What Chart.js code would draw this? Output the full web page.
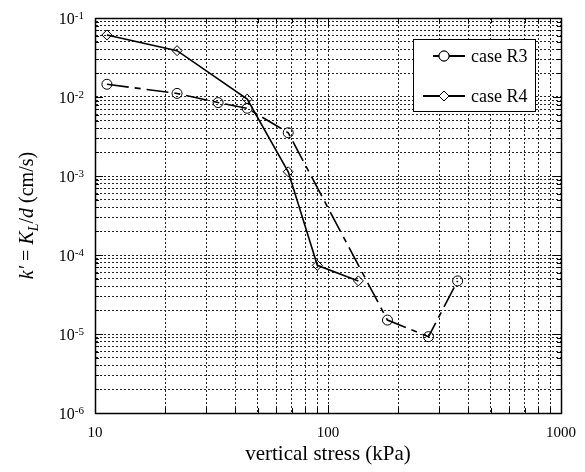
<!DOCTYPE html>
<html><head><meta charset="utf-8">
<script src="https://cdn.jsdelivr.net/npm/chart.js@4.4.1/dist/chart.umd.min.js"></script>
<style>html,body{margin:0;padding:0;background:#fff;}</style>
</head><body>
<canvas id="c" width="585" height="472"></canvas>
<script>
// ---- data ----
const stressR3 = [11.25, 22.5, 33.75, 45, 67.5, 180, 270, 360];
const kR3 = [0.0145, 0.0111, 0.0085, 0.0072, 0.00353, 1.5e-5, 9.25e-6, 4.7e-5];
const stressR4 = [11.25, 22.5, 45, 67.5, 90, 135];
const kR4 = [0.061, 0.0386, 0.0094, 0.00113, 7.4e-5, 4.7e-5];
const seriesNames = ['case R3', 'case R4'];
const xTickLabels = ['10', '100', '1000'];
const yTickExponents = ['-6', '-5', '-4', '-3', '-2', '-1'];
const xMin = 10, xMax = 1000, yMin = 1e-6, yMax = 1e-1;

function logTicks(min, max) {
  const out = [];
  const e0 = Math.round(Math.log10(min)), e1 = Math.round(Math.log10(max));
  for (let e = e0; e < e1; e++) {
    for (let m = 1; m <= 9; m++) out.push(parseFloat((m * Math.pow(10, e)).toPrecision(6)));
  }
  out.push(max);
  return out;
}
const xTickValues = logTicks(xMin, xMax);
const yTickValues = logTicks(yMin, yMax);
const isDecade = v => Math.abs(Math.log10(v) - Math.round(Math.log10(v))) < 1e-9;

const SERIF = '"Liberation Serif", "Times New Roman", serif';

const decor = {
  id: 'decor',
  afterDraw(chart) {
    const { ctx, chartArea: a, scales: { x, y } } = chart;
    ctx.save();
    ctx.setLineDash([]);
    ctx.strokeStyle = '#000';
    // inward ticks
    ctx.lineWidth = 1;
    ctx.beginPath();
    xTickValues.forEach(v => {
      const px = Math.round(x.getPixelForValue(v)) + 0.5;
      const len = isDecade(v) ? 8 : 5;
      ctx.moveTo(px, a.bottom); ctx.lineTo(px, a.bottom - len);
      ctx.moveTo(px, a.top); ctx.lineTo(px, a.top + len);
    });
    yTickValues.forEach(v => {
      const py = Math.round(y.getPixelForValue(v)) + 0.5;
      const len = isDecade(v) ? 8 : 4;
      ctx.moveTo(a.left, py); ctx.lineTo(a.left + len, py);
      ctx.moveTo(a.right, py); ctx.lineTo(a.right - len, py);
    });
    ctx.stroke();
    // frame
    ctx.lineWidth = 1.5;
    ctx.strokeRect(Math.round(a.left) + 0.5, Math.round(a.top) + 0.5,
      Math.round(a.right - a.left), Math.round(a.bottom - a.top));

    // x tick labels
    ctx.fillStyle = '#000';
    ctx.font = '15px ' + SERIF;
    ctx.textAlign = 'center';
    ctx.textBaseline = 'alphabetic';
    xTickLabels.forEach(t => {
      const px = x.getPixelForValue(parseFloat(t));
      ctx.fillText(t, px, a.bottom + 24);
    });
    // y tick labels with superscript
    yTickExponents.forEach(e => {
      const py = y.getPixelForValue(Math.pow(10, parseInt(e)));
      const right = a.left - 11;
      ctx.font = '11px ' + SERIF;
      ctx.textAlign = 'right';
      const ew = ctx.measureText(e).width;
      ctx.fillText(e, right, py + 1);
      ctx.font = '16px ' + SERIF;
      ctx.fillText('10', right - ew, py + 6);
    });
    // x title
    ctx.font = '21px ' + SERIF;
    ctx.textAlign = 'center';
    ctx.fillText('vertical stress (kPa)', (a.left + a.right) / 2, a.bottom + 47);

    // y title (rotated, rich text)
    const parts = [
      { t: 'k\u2032', f: 'italic 20px ' + SERIF, dy: 0 },
      { t: ' = ', f: '20px ' + SERIF, dy: 0 },
      { t: 'K', f: 'italic 20px ' + SERIF, dy: 0 },
      { t: 'L', f: 'italic 14px ' + SERIF, dy: 5 },
      { t: '/', f: '20px ' + SERIF, dy: 0 },
      { t: 'd', f: 'italic 20px ' + SERIF, dy: 0 },
      { t: ' (cm/s)', f: '20px ' + SERIF, dy: 0 }
    ];
    let total = 0;
    parts.forEach(p => { ctx.font = p.f; p.w = ctx.measureText(p.t).width; total += p.w; });
    ctx.translate(33, (a.top + a.bottom) / 2);
    ctx.rotate(-Math.PI / 2);
    ctx.textAlign = 'left';
    let cx = -total / 2;
    parts.forEach(p => { ctx.font = p.f; ctx.fillText(p.t, cx, p.dy); cx += p.w; });
    ctx.setTransform(1, 0, 0, 1, 0, 0);

    // legend
    const lx = a.right - 148, ly = a.top + 21, lw = 122, lh = 72;
    ctx.fillStyle = '#fff';
    ctx.fillRect(lx, ly, lw, lh);
    ctx.strokeStyle = '#000';
    ctx.lineWidth = 1;
    ctx.strokeRect(lx + 0.5, ly + 0.5, lw, lh);
    const rows = [
      { ds: chart.data.datasets[0], y: ly + 17, x0: lx + 20 },
      { ds: chart.data.datasets[1], y: ly + 57, x0: lx + 10 }
    ];
    rows.forEach(r => {
      ctx.strokeStyle = '#000';
      ctx.lineWidth = 2;
      ctx.setLineDash([]);
      ctx.beginPath();
      ctx.moveTo(r.x0, r.y); ctx.lineTo(lx + 52, r.y);
      ctx.stroke();
      ctx.fillStyle = '#fff';
      ctx.lineWidth = 1;
      Chart.helpers.drawPoint(ctx, { pointStyle: r.ds.pointStyle, radius: r.ds.pointRadius, borderWidth: 1, rotation: 0 }, lx + 31, r.y);
      ctx.fill();
      ctx.stroke();
      ctx.fillStyle = '#000';
      ctx.font = '18px ' + SERIF;
      ctx.textBaseline = 'middle';
      ctx.textAlign = 'left';
      ctx.fillText(r.ds.label, lx + 58, r.y + 1);
    });
    ctx.restore();
  }
};

const gridCommon = {
  display: true,
  drawTicks: false,
  color: '#222',
  lineWidth: 1
};

new Chart(document.getElementById('c'), {
  type: 'scatter',
  data: {
    datasets: [
      {
        label: seriesNames[0],
        data: stressR3.map((v, i) => ({ x: v, y: kR3[i] })),
        showLine: true,
        borderColor: '#000',
        borderWidth: 1.6,
        borderDash: [22, 6, 6, 6],
        pointStyle: 'circle',
        pointRadius: 5,
        pointBorderWidth: 1,
        pointBorderColor: '#000',
        pointBackgroundColor: 'rgba(0,0,0,0)'
      },
      {
        label: seriesNames[1],
        data: stressR4.map((v, i) => ({ x: v, y: kR4[i] })),
        showLine: true,
        borderColor: '#000',
        borderWidth: 1.6,
        pointStyle: 'rectRot',
        pointRadius: 5,
        pointBorderWidth: 1,
        pointBorderColor: '#000',
        pointBackgroundColor: 'rgba(0,0,0,0)'
      }
    ]
  },
  options: {
    responsive: false,
    animation: false,
    devicePixelRatio: 1,
    layout: { padding: { left: 95, right: 24, top: 18, bottom: 59 } },
    plugins: { legend: { display: false }, tooltip: { enabled: false } },
    scales: {
      x: {
        type: 'logarithmic',
        min: xMin, max: xMax,
        afterBuildTicks: s => { s.ticks = xTickValues.map(v => ({ value: v })); },
        ticks: { display: false, autoSkip: false },
        grid: gridCommon,
        border: { display: true, color: '#000', width: 1, dash: [2, 2] }
      },
      y: {
        type: 'logarithmic',
        min: yMin, max: yMax,
        afterBuildTicks: s => { s.ticks = yTickValues.map(v => ({ value: v })); },
        ticks: { display: false, autoSkip: false },
        grid: gridCommon,
        border: { display: true, color: '#000', width: 1, dash: [2, 2] }
      }
    }
  },
  plugins: [decor]
});
</script>
</body></html>
